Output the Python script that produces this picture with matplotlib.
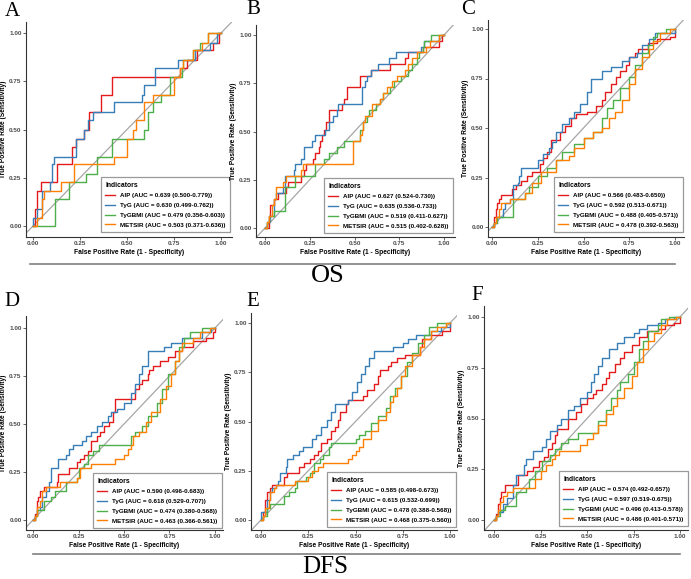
import matplotlib
matplotlib.use("Agg")
import matplotlib.pyplot as plt
from matplotlib.lines import Line2D
from matplotlib.ticker import FormatStrFormatter

# ROC curves: (fpr, tpr) points where each step rises
A_AIP = [(0, 0), (0.01, 0.09), (0.02, 0.18), (0.04, 0.23), (0.13, 0.32), (0.21, 0.41), (0.23, 0.45),
         (0.27, 0.50), (0.30, 0.59), (0.36, 0.68), (0.42, 0.77), (0.78, 0.82), (0.82, 0.86), (0.87, 0.91),
         (0.96, 0.95), (0.99, 1.0), (1.0, 1.0)]
A_TYG = [(0, 0), (0, 0.04), (0.02, 0.09), (0.05, 0.18), (0.09, 0.23), (0.10, 0.32), (0.11, 0.36), (0.23, 0.45),
         (0.27, 0.50), (0.29, 0.55), (0.32, 0.59), (0.43, 0.64), (0.58, 0.68), (0.59, 0.73), (0.65, 0.82),
         (0.77, 0.86), (0.86, 0.91), (0.94, 0.95), (0.98, 1.0), (1.0, 1.0)]
A_TYGBMI = [(0, 0), (0.115, 0.14), (0.19, 0.23), (0.28, 0.27), (0.34, 0.36), (0.42, 0.45), (0.59, 0.50),
            (0.61, 0.59), (0.64, 0.64), (0.68, 0.68), (0.73, 0.77), (0.79, 0.82), (0.80, 0.86), (0.85, 0.91),
            (0.89, 0.95), (0.93, 1.0), (1.0, 1.0)]
A_METSIR = [(0, 0), (0.02, 0.04), (0.05, 0.14), (0.06, 0.18), (0.15, 0.23), (0.22, 0.32), (0.43, 0.36),
            (0.50, 0.45), (0.53, 0.50), (0.55, 0.55), (0.59, 0.64), (0.64, 0.68), (0.75, 0.77), (0.78, 0.82),
            (0.80, 0.86), (0.85, 0.91), (0.90, 0.95), (0.93, 1.0), (1.0, 1.0)]

B_AIP = [(0, 0), (0.02, 0.06), (0.03, 0.12), (0.05, 0.15), (0.07, 0.18), (0.12, 0.21), (0.13, 0.24), (0.20, 0.27),
         (0.22, 0.30), (0.23, 0.33), (0.27, 0.36), (0.28, 0.39), (0.30, 0.42), (0.31, 0.45), (0.32, 0.48),
         (0.33, 0.51), (0.34, 0.55), (0.36, 0.61), (0.43, 0.64), (0.44, 0.67), (0.46, 0.73), (0.53, 0.79),
         (0.59, 0.82), (0.70, 0.85), (0.78, 0.88), (0.80, 0.91), (0.88, 0.94), (0.97, 0.97), (0.99, 1.0), (1.0, 1.0)]
B_TYG = [(0, 0), (0.01, 0.03), (0.03, 0.06), (0.05, 0.15), (0.06, 0.18), (0.10, 0.21), (0.11, 0.27), (0.16, 0.30),
         (0.17, 0.33), (0.20, 0.36), (0.22, 0.42), (0.26, 0.45), (0.28, 0.48), (0.335, 0.51), (0.36, 0.55),
         (0.38, 0.58), (0.40, 0.61), (0.41, 0.64), (0.54, 0.73), (0.56, 0.76), (0.57, 0.79), (0.59, 0.82),
         (0.63, 0.85), (0.69, 0.88), (0.73, 0.91), (0.87, 0.94), (0.89, 0.97), (0.97, 1.0), (1.0, 1.0)]
B_TYGBMI = [(0, 0), (0.01, 0.03), (0.02, 0.06), (0.05, 0.09), (0.11, 0.21), (0.17, 0.27), (0.28, 0.33),
            (0.33, 0.36), (0.36, 0.39), (0.40, 0.42), (0.44, 0.45), (0.53, 0.51), (0.55, 0.55), (0.57, 0.58),
            (0.58, 0.61), (0.62, 0.64), (0.64, 0.67), (0.66, 0.70), (0.70, 0.73), (0.72, 0.76), (0.76, 0.79),
            (0.80, 0.82), (0.82, 0.85), (0.85, 0.88), (0.86, 0.91), (0.88, 0.94), (0.89, 0.97), (0.93, 1.0), (1.0, 1.0)]
B_METSIR = [(0, 0), (0.01, 0.03), (0.02, 0.06), (0.04, 0.12), (0.05, 0.15), (0.06, 0.21), (0.10, 0.24),
            (0.12, 0.27), (0.20, 0.30), (0.21, 0.33), (0.49, 0.45), (0.53, 0.48), (0.54, 0.51), (0.55, 0.55),
            (0.56, 0.58), (0.60, 0.64), (0.64, 0.67), (0.66, 0.70), (0.68, 0.73), (0.71, 0.76), (0.74, 0.79),
            (0.78, 0.82), (0.80, 0.85), (0.82, 0.88), (0.85, 0.91), (0.90, 0.94), (0.92, 0.97), (0.97, 1.0), (1.0, 1.0)]

C_AIP = [(0, 0), (0.01, 0.05), (0.02, 0.09), (0.03, 0.12), (0.04, 0.14), (0.05, 0.16), (0.11, 0.19), (0.13, 0.21),
         (0.16, 0.23), (0.19, 0.26), (0.22, 0.28), (0.26, 0.32), (0.28, 0.35), (0.30, 0.38), (0.32, 0.44),
         (0.37, 0.48), (0.40, 0.51), (0.43, 0.55), (0.46, 0.57), (0.52, 0.58), (0.57, 0.61), (0.60, 0.64),
         (0.62, 0.68), (0.65, 0.72), (0.68, 0.76), (0.70, 0.79), (0.73, 0.82), (0.75, 0.86), (0.78, 0.88),
         (0.80, 0.90), (0.85, 0.93), (0.90, 0.95), (0.97, 0.96), (1.0, 1.0)]
C_TYG = [(0, 0), (0.01, 0.02), (0.03, 0.05), (0.06, 0.09), (0.07, 0.12), (0.10, 0.14), (0.115, 0.21), (0.14, 0.22),
         (0.15, 0.26), (0.16, 0.30), (0.25, 0.34), (0.28, 0.37), (0.31, 0.40), (0.33, 0.43), (0.35, 0.48),
         (0.38, 0.52), (0.42, 0.55), (0.45, 0.58), (0.48, 0.62), (0.52, 0.68), (0.54, 0.75), (0.60, 0.79),
         (0.65, 0.81), (0.71, 0.84), (0.75, 0.86), (0.79, 0.88), (0.82, 0.92), (0.86, 0.95), (0.89, 0.98), (1.0, 1.0)]
C_TYGBMI = [(0, 0), (0.01, 0.02), (0.03, 0.05), (0.115, 0.14), (0.18, 0.17), (0.20, 0.20), (0.25, 0.26),
            (0.30, 0.30), (0.35, 0.34), (0.38, 0.38), (0.45, 0.42), (0.50, 0.45), (0.55, 0.48), (0.60, 0.55),
            (0.63, 0.60), (0.66, 0.64), (0.70, 0.70), (0.75, 0.76), (0.78, 0.82), (0.82, 0.88), (0.85, 0.92),
            (0.88, 0.96), (0.90, 0.98), (0.95, 1.0), (1.0, 1.0)]
C_METSIR = [(0, 0), (0.01, 0.02), (0.02, 0.05), (0.04, 0.09), (0.05, 0.12), (0.10, 0.14), (0.18, 0.17),
            (0.22, 0.22), (0.27, 0.28), (0.35, 0.34), (0.42, 0.36), (0.45, 0.40), (0.50, 0.45), (0.55, 0.48),
            (0.60, 0.50), (0.64, 0.55), (0.67, 0.58), (0.71, 0.64), (0.75, 0.72), (0.78, 0.80), (0.82, 0.86),
            (0.86, 0.90), (0.88, 0.94), (0.92, 0.98), (0.97, 1.0), (1.0, 1.0)]

D_AIP = [(0, 0), (0.01, 0.03), (0.02, 0.10), (0.03, 0.12), (0.04, 0.15), (0.06, 0.17), (0.13, 0.20), (0.14, 0.24),
         (0.20, 0.27), (0.24, 0.30), (0.26, 0.32), (0.28, 0.34), (0.30, 0.36), (0.32, 0.41), (0.35, 0.44),
         (0.37, 0.46), (0.39, 0.49), (0.42, 0.51), (0.44, 0.56), (0.45, 0.63), (0.56, 0.68), (0.58, 0.71),
         (0.60, 0.73), (0.63, 0.76), (0.64, 0.78), (0.66, 0.80), (0.70, 0.83), (0.74, 0.85), (0.78, 0.88),
         (0.82, 0.90), (0.88, 0.93), (0.95, 0.95), (0.99, 0.98), (1.0, 1.0)]
D_TYG = [(0, 0), (0.01, 0.02), (0.02, 0.05), (0.04, 0.07), (0.05, 0.12), (0.07, 0.15), (0.09, 0.20), (0.10, 0.27),
         (0.14, 0.32), (0.18, 0.34), (0.20, 0.37), (0.22, 0.39), (0.27, 0.41), (0.29, 0.44), (0.32, 0.46),
         (0.35, 0.49), (0.38, 0.51), (0.41, 0.54), (0.43, 0.56), (0.46, 0.58), (0.50, 0.61), (0.54, 0.66),
         (0.56, 0.71), (0.58, 0.76), (0.60, 0.80), (0.63, 0.88), (0.72, 0.90), (0.76, 0.92), (0.82, 0.95),
         (0.93, 0.98), (0.98, 1.0), (1.0, 1.0)]
D_TYGBMI = [(0, 0), (0.01, 0.02), (0.02, 0.05), (0.06, 0.10), (0.10, 0.12), (0.12, 0.15), (0.18, 0.20),
            (0.24, 0.22), (0.25, 0.27), (0.28, 0.29), (0.30, 0.34), (0.33, 0.36), (0.36, 0.39), (0.54, 0.44),
            (0.56, 0.46), (0.60, 0.49), (0.63, 0.54), (0.68, 0.61), (0.71, 0.68), (0.74, 0.76), (0.78, 0.83),
            (0.80, 0.90), (0.83, 0.95), (0.86, 0.98), (0.93, 1.0), (1.0, 1.0)]
D_METSIR = [(0, 0), (0.01, 0.02), (0.02, 0.07), (0.04, 0.10), (0.05, 0.15), (0.07, 0.17), (0.15, 0.20),
            (0.24, 0.22), (0.26, 0.27), (0.32, 0.29), (0.45, 0.32), (0.50, 0.34), (0.52, 0.37), (0.54, 0.39),
            (0.55, 0.44), (0.58, 0.46), (0.62, 0.51), (0.65, 0.56), (0.70, 0.63), (0.73, 0.70), (0.76, 0.76),
            (0.78, 0.83), (0.80, 0.88), (0.82, 0.92), (0.88, 0.95), (0.92, 0.98), (0.97, 1.0), (1.0, 1.0)]

E_AIP = [(0, 0), (0.01, 0.04), (0.02, 0.10), (0.03, 0.14), (0.05, 0.16), (0.06, 0.18), (0.12, 0.22), (0.14, 0.24),
         (0.20, 0.27), (0.23, 0.29), (0.26, 0.31), (0.28, 0.33), (0.30, 0.35), (0.32, 0.39), (0.35, 0.41),
         (0.37, 0.45), (0.39, 0.47), (0.41, 0.51), (0.42, 0.55), (0.45, 0.59), (0.46, 0.61), (0.54, 0.63),
         (0.56, 0.66), (0.60, 0.69), (0.62, 0.73), (0.63, 0.76), (0.67, 0.78), (0.69, 0.80), (0.72, 0.82),
         (0.76, 0.84), (0.84, 0.88), (0.85, 0.92), (0.90, 0.94), (0.96, 0.96), (1.0, 1.0)]
E_TYG = [(0, 0), (0, 0.04), (0.03, 0.10), (0.05, 0.14), (0.06, 0.16), (0.08, 0.18), (0.09, 0.20), (0.10, 0.24),
         (0.13, 0.27), (0.14, 0.31), (0.17, 0.33), (0.20, 0.35), (0.22, 0.37), (0.27, 0.41), (0.29, 0.43),
         (0.32, 0.47), (0.35, 0.51), (0.37, 0.55), (0.39, 0.59), (0.46, 0.61), (0.48, 0.65), (0.51, 0.70),
         (0.53, 0.74), (0.55, 0.78), (0.57, 0.82), (0.60, 0.86), (0.70, 0.88), (0.75, 0.90), (0.78, 0.92),
         (0.82, 0.94), (0.90, 0.96), (0.95, 0.98), (1.0, 1.0)]
E_TYGBMI = [(0, 0), (0.01, 0.02), (0.03, 0.06), (0.05, 0.08), (0.12, 0.12), (0.15, 0.14), (0.18, 0.16),
            (0.19, 0.20), (0.24, 0.22), (0.26, 0.24), (0.28, 0.29), (0.31, 0.31), (0.33, 0.33), (0.36, 0.37),
            (0.37, 0.39), (0.50, 0.41), (0.52, 0.43), (0.55, 0.45), (0.58, 0.49), (0.62, 0.53), (0.66, 0.57),
            (0.68, 0.63), (0.71, 0.67), (0.74, 0.73), (0.77, 0.80), (0.80, 0.85), (0.83, 0.90), (0.86, 0.94),
            (0.89, 0.98), (0.93, 1.0), (1.0, 1.0)]
E_METSIR = [(0, 0), (0.01, 0.02), (0.02, 0.06), (0.04, 0.10), (0.05, 0.14), (0.07, 0.16), (0.08, 0.18),
            (0.18, 0.20), (0.25, 0.22), (0.27, 0.25), (0.30, 0.27), (0.33, 0.29), (0.46, 0.31), (0.48, 0.33),
            (0.50, 0.35), (0.52, 0.37), (0.54, 0.41), (0.58, 0.45), (0.62, 0.51), (0.66, 0.55), (0.68, 0.60),
            (0.70, 0.63), (0.72, 0.67), (0.74, 0.73), (0.76, 0.78), (0.80, 0.84), (0.84, 0.88), (0.86, 0.92),
            (0.90, 0.96), (0.93, 0.98), (0.98, 1.0), (1.0, 1.0)]

F_AIP = [(0, 0), (0.01, 0.03), (0.02, 0.08), (0.03, 0.11), (0.04, 0.14), (0.06, 0.17), (0.13, 0.22), (0.18, 0.24),
         (0.21, 0.26), (0.24, 0.29), (0.27, 0.31), (0.29, 0.35), (0.31, 0.38), (0.33, 0.42), (0.34, 0.45),
         (0.40, 0.50), (0.44, 0.53), (0.47, 0.57), (0.50, 0.60), (0.53, 0.62), (0.55, 0.64), (0.58, 0.67),
         (0.60, 0.70), (0.62, 0.73), (0.65, 0.77), (0.68, 0.80), (0.70, 0.83), (0.74, 0.86), (0.78, 0.90),
         (0.82, 0.93), (0.88, 0.94), (0.92, 0.96), (0.97, 0.97), (1.0, 1.0)]
F_TYG = [(0, 0), (0.01, 0.02), (0.02, 0.04), (0.05, 0.08), (0.07, 0.11), (0.10, 0.17), (0.12, 0.22), (0.16, 0.27),
         (0.17, 0.30), (0.21, 0.34), (0.26, 0.36), (0.28, 0.40), (0.30, 0.44), (0.34, 0.47), (0.36, 0.50),
         (0.40, 0.54), (0.43, 0.56), (0.46, 0.60), (0.50, 0.63), (0.52, 0.68), (0.54, 0.72), (0.56, 0.76),
         (0.58, 0.80), (0.62, 0.84), (0.66, 0.87), (0.70, 0.90), (0.75, 0.92), (0.78, 0.94), (0.82, 0.96),
         (0.88, 0.97), (0.92, 0.99), (0.97, 1.0), (1.0, 1.0)]
F_TYGBMI = [(0, 0), (0.01, 0.02), (0.03, 0.05), (0.06, 0.07), (0.12, 0.14), (0.17, 0.16), (0.19, 0.20),
            (0.22, 0.24), (0.26, 0.29), (0.30, 0.32), (0.33, 0.35), (0.36, 0.38), (0.40, 0.40), (0.45, 0.43),
            (0.56, 0.49), (0.60, 0.54), (0.63, 0.60), (0.66, 0.64), (0.68, 0.68), (0.72, 0.72), (0.75, 0.78),
            (0.78, 0.84), (0.80, 0.88), (0.83, 0.93), (0.88, 0.96), (0.90, 0.99), (0.94, 1.0), (1.0, 1.0)]
F_METSIR = [(0, 0), (0.01, 0.02), (0.02, 0.05), (0.03, 0.09), (0.05, 0.12), (0.07, 0.14), (0.10, 0.16),
            (0.22, 0.20), (0.25, 0.24), (0.28, 0.27), (0.31, 0.30), (0.33, 0.32), (0.35, 0.34), (0.46, 0.37),
            (0.50, 0.40), (0.53, 0.43), (0.56, 0.47), (0.60, 0.52), (0.64, 0.56), (0.66, 0.60), (0.70, 0.65),
            (0.74, 0.71), (0.77, 0.78), (0.80, 0.84), (0.83, 0.88), (0.86, 0.92), (0.90, 0.96), (0.93, 0.99),
            (0.98, 1.0), (1.0, 1.0)]

indicators = ["AIP", "TyG", "TyGBMI", "METSIR"]
colors = ["#E41A1C", "#377EB8", "#4DAF4A", "#FF7F00"]

auc_A = ["0.639 (0.500-0.779)", "0.630 (0.499-0.762)", "0.479 (0.356-0.603)", "0.503 (0.371-0.636)"]
auc_B = ["0.627 (0.524-0.730)", "0.635 (0.536-0.733)", "0.519 (0.411-0.627)", "0.515 (0.402-0.628)"]
auc_C = ["0.566 (0.483-0.650)", "0.592 (0.513-0.671)", "0.488 (0.405-0.571)", "0.478 (0.392-0.563)"]
auc_D = ["0.590 (0.496-0.683)", "0.618 (0.529-0.707)", "0.474 (0.380-0.568)", "0.463 (0.366-0.561)"]
auc_E = ["0.585 (0.498-0.673)", "0.615 (0.532-0.699)", "0.478 (0.388-0.568)", "0.468 (0.375-0.560)"]
auc_F = ["0.574 (0.492-0.657)", "0.597 (0.519-0.675)", "0.496 (0.413-0.578)", "0.486 (0.401-0.571)"]

W, H = 691, 579
fig = plt.figure(figsize=(W / 100, H / 100), dpi=100)
fig.patch.set_facecolor("white")

# panel geometry in pixels: axis left/right/top/bottom, pixel of x=0, x=1, y=0, y=1, legend right/bottom
panels = [
    ("A", [A_AIP, A_TYG, A_TYGBMI, A_METSIR], auc_A, (26, 232, 22, 237), (33, 221, 226, 33), (230, 232), (12, 11)),
    ("B", [B_AIP, B_TYG, B_TYGBMI, B_METSIR], auc_B, (256, 455, 25, 237), (265, 444, 228, 35), (453, 233), (253, 10)),
    ("C", [C_AIP, C_TYG, C_TYGBMI, C_METSIR], auc_C, (488, 684, 20, 237), (492, 675, 227, 29), (683, 232), (468, 10)),
    ("D", [D_AIP, D_TYG, D_TYGBMI, D_METSIR], auc_D, (26, 223, 316, 530), (33, 215, 520, 328), (222, 528), (12, 302)),
    ("E", [E_AIP, E_TYG, E_TYGBMI, E_METSIR], auc_E, (251, 457, 313, 530), (261, 450, 520, 323), (456, 527), (253, 302)),
    ("F", [F_AIP, F_TYG, F_TYGBMI, F_METSIR], auc_F, (484, 688, 306, 530), (494, 680, 520, 317), (688, 526), (477, 296)),
]

for letter, curves, aucs, box, scale, leg, lpos in panels:
    L, R, T, B = box
    x0, x1, y0, y1 = scale
    ax = fig.add_axes([L / W, 1 - B / H, (R - L) / W, (B - T) / H])
    ax.set_xlim((L - x0) / (x1 - x0), (R - x0) / (x1 - x0))
    ax.set_ylim((y0 - B) / (y0 - y1), (y0 - T) / (y0 - y1))
    ax.axline((0, 0), (1, 1), color="#A6A6A6", lw=0.9, zorder=1)
    handles = []
    for pts, name, col, auc in zip(curves, indicators, colors, aucs):
        xs = [p[0] for p in pts]
        ys = [p[1] for p in pts]
        ln, = ax.plot(xs, ys, drawstyle="steps-post", color=col, lw=1.0, zorder=2,
                      label=f"{name} (AUC = {auc})")
        handles.append(ln)
    for s in ["top", "right"]:
        ax.spines[s].set_visible(False)
    for s in ["left", "bottom"]:
        ax.spines[s].set_color("#333333")
        ax.spines[s].set_linewidth(0.8)
    ax.set_xticks([0, 0.25, 0.5, 0.75, 1.0])
    ax.set_yticks([0, 0.25, 0.5, 0.75, 1.0])
    ax.xaxis.set_major_formatter(FormatStrFormatter("%.2f"))
    ax.yaxis.set_major_formatter(FormatStrFormatter("%.2f"))
    ax.tick_params(length=2, width=0.6, color="#4D4D4D", pad=1.2, labelsize=4.6, labelcolor="#4D4D4D")
    for t in ax.get_xticklabels() + ax.get_yticklabels():
        t.set_fontweight("bold")
        t.set_family("Liberation Sans")
    ax.set_xlabel("False Positive Rate (1 - Specificity)", fontsize=4.8, fontweight="bold",
                  family="Liberation Sans", labelpad=1.5)
    ax.set_ylabel("True Positive Rate (Sensitivity)", fontsize=4.8, fontweight="bold",
                  family="Liberation Sans", labelpad=1.5)
    lg = ax.legend(handles=handles, loc="lower right", bbox_to_anchor=(leg[0] / W, 1 - leg[1] / H),
                   bbox_transform=fig.transFigure, frameon=True, fancybox=False, framealpha=1,
                   edgecolor="#999999", title="Indicators", alignment="left",
                   prop={"family": "Liberation Sans", "weight": "bold", "size": 4.5},
                   title_fontproperties={"family": "Liberation Sans", "weight": "bold", "size": 4.9},
                   handlelength=1.6, handletextpad=0.8, labelspacing=0.7, borderpad=0.7,
                   borderaxespad=0)
    lg.get_frame().set_linewidth(0.9)
    fig.text(lpos[0] / W, 1 - lpos[1] / H, letter, family="Liberation Serif", fontsize=15,
             ha="center", va="center")

# separators and group titles
fig.add_artist(Line2D([30 / W, 675 / W], [1 - 264 / H, 1 - 264 / H], color="#7F7F7F", lw=1.2))
fig.add_artist(Line2D([33 / W, 680 / W], [1 - 554 / H, 1 - 554 / H], color="#7F7F7F", lw=1.2))
fig.text(328 / W, 1 - 276 / H, "OS", family="Liberation Serif", fontsize=19, ha="center", va="center")
fig.text(325 / W, 1 - 567 / H, "DFS", family="Liberation Serif", fontsize=18, ha="center", va="center")

fig.savefig("out.png", dpi=100)
